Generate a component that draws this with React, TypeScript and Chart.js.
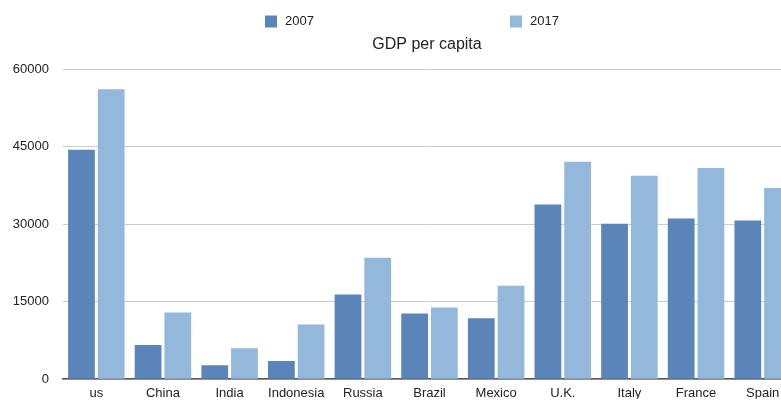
import React, { useEffect, useRef } from "react";
import { Chart, registerables } from "chart.js";

Chart.register(...registerables);

const categories = ["us", "China", "India", "Indonesia", "Russia", "Brazil", "Mexico", "U.K.", "Italy", "France", "Spain"];
const gdp2007 = [44400, 6600, 2700, 3500, 16400, 12700, 11800, 33800, 30100, 31100, 30700];
const gdp2017 = [56100, 12900, 6000, 10600, 23500, 13900, 18100, 42100, 39400, 40900, 37000];
const seriesLabels = ["2007", "2017"];
const seriesColors = ["#5b84b8", "#93b8dc"];
const yTicks = [0, 15000, 30000, 45000, 60000];
const titleText = "GDP per capita";

const FONT = "'Liberation Sans', Arial, Helvetica, sans-serif";

const legendPlugin = {
  id: "customLegend",
  afterDraw(chart: any) {
    const { ctx, chartArea } = chart;
    const w = chartArea.right - chartArea.left;
    const positions = [0.2756, 0.6098];
    ctx.save();
    ctx.font = `13px ${FONT}`;
    ctx.textBaseline = "middle";
    ctx.textAlign = "left";
    chart.data.datasets.forEach((ds: any, i: number) => {
      const x = chartArea.left + positions[i] * w;
      const y = 21.5;
      ctx.fillStyle = ds.backgroundColor;
      ctx.fillRect(x, y - 6, 12, 12);
      ctx.fillStyle = "#222";
      ctx.fillText(ds.label, x + 20, y);
    });
    ctx.restore();
  },
};

export default function App() {
  const ref = useRef<HTMLCanvasElement | null>(null);
  useEffect(() => {
    if (!ref.current) return;
    const chart = new Chart(ref.current, {
      type: "bar",
      data: {
        labels: categories,
        datasets: [
          { label: seriesLabels[0], data: gdp2007, backgroundColor: seriesColors[0], borderWidth: 0, yAxisID: "y" },
          { label: seriesLabels[1], data: gdp2017, backgroundColor: seriesColors[1], borderWidth: 0, yAxisID: "y" },
        ],
      },
      options: {
        animation: false,
        responsive: true,
        maintainAspectRatio: false,
        datasets: { bar: { categoryPercentage: 0.892, barPercentage: 0.9 } },
        layout: { padding: 0 },
        plugins: {
          legend: { display: false },
          tooltip: { enabled: false },
          title: {
            display: true,
            text: titleText,
            color: "#222",
            font: { family: FONT, size: 16, weight: "normal" },
            padding: { top: 35, bottom: 15 },
          },
        },
        scales: {
          x: {
            grid: { display: false, drawTicks: false },
            border: { display: true, color: "#555", width: 1.5 },
            ticks: { color: "#222", font: { family: FONT, size: 13 }, padding: 6.5, maxRotation: 0, autoSkip: false },
            afterFit: (scale: any) => {
              scale.height = 19.5;
            },
          },
          y: {
            position: "left",
            min: 0,
            max: 60000,
            afterBuildTicks: (scale: any) => {
              scale.ticks = yTicks.map((v) => ({ value: v }));
            },
            afterFit: (scale: any) => {
              scale.width = 63;
            },
            grid: { color: "#cccccc", lineWidth: 1, drawTicks: false },
            border: { display: false },
            ticks: {
              color: "#222",
              font: { family: FONT, size: 13 },
              padding: 14,
              callback: (v: any) => String(v),
            },
          },
          yRight: {
            position: "right",
            display: true,
            min: 0,
            max: 1,
            grid: { display: false, drawTicks: false },
            border: { display: false },
            ticks: { display: false },
            afterFit: (scale: any) => {
              scale.width = 58;
            },
          },
        },
      },
      plugins: [legendPlugin],
    } as any);
    return () => chart.destroy();
  }, []);

  return (
    <div style={{ position: "absolute", left: 0, top: 0, width: 781, height: 401, overflow: "hidden", background: "#fff" }}>
      <div style={{ position: "relative", width: 854, height: 401 }}>
        <canvas ref={ref} />
      </div>
    </div>
  );
}
